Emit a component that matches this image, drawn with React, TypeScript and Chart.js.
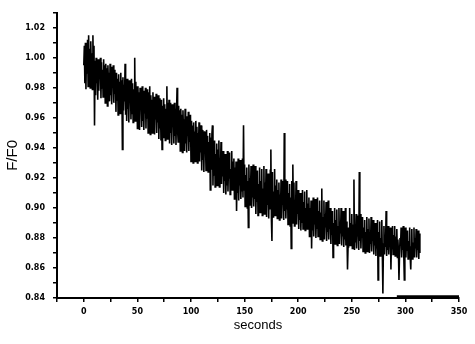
import React, { useEffect, useRef } from "react";
import { Chart, registerables } from "chart.js";

Chart.register(...registerables);

// Sampling interval of the trace (seconds per point)
const TIME_STEP = 0.5;

// F/F0 trace, two values per second from t = 0 s (one row = 10 s)
const FF0_VALUES: number[] = [
  0.995, 1.008, 0.983, 1.010, 0.979, 1.004, 0.990, 1.012, 0.981, 1.015, 0.985, 1.006, 0.980, 1.011, 0.992, 1.003, 0.979, 1.015, 0.987, 1.008,
  0.955, 0.998, 0.975, 1.000, 0.983, 0.996, 0.972, 0.999, 0.978, 0.994, 0.986, 1.000, 0.973, 0.997, 0.980, 0.992, 0.974, 0.999, 0.984, 0.995,
  0.970, 0.996, 0.978, 0.993, 0.968, 0.995, 0.982, 0.990, 0.971, 0.996, 0.975, 0.994, 0.969, 0.989, 0.980, 0.995, 0.970, 0.992, 0.976, 0.988,
  0.964, 0.990, 0.972, 0.986, 0.962, 0.989, 0.976, 0.984, 0.963, 0.990, 0.968, 0.985, 0.939, 0.987, 0.965, 0.982, 0.971, 0.996, 0.962, 0.984,
  0.958, 0.986, 0.966, 0.982, 0.957, 0.985, 0.970, 0.980, 0.959, 0.986, 0.963, 0.983, 0.957, 0.979, 0.968, 1.000, 0.958, 0.984, 0.964, 0.981,
  0.953, 0.981, 0.961, 0.977, 0.952, 0.980, 0.966, 0.975, 0.954, 0.981, 0.958, 0.978, 0.952, 0.974, 0.963, 0.980, 0.953, 0.976, 0.960, 0.979,
  0.950, 0.977, 0.956, 0.981, 0.949, 0.975, 0.962, 0.972, 0.950, 0.977, 0.955, 0.974, 0.949, 0.970, 0.959, 0.976, 0.950, 0.973, 0.957, 0.975,
  0.946, 0.973, 0.953, 0.970, 0.945, 0.972, 0.939, 0.968, 0.947, 0.973, 0.952, 0.969, 0.945, 0.966, 0.955, 0.981, 0.946, 0.970, 0.951, 0.972,
  0.943, 0.970, 0.950, 0.967, 0.942, 0.969, 0.955, 0.964, 0.943, 0.970, 0.948, 0.966, 0.942, 0.963, 0.980, 0.952, 0.944, 0.968, 0.949, 0.965,
  0.938, 0.966, 0.945, 0.962, 0.937, 0.965, 0.950, 0.959, 0.938, 0.966, 0.943, 0.961, 0.937, 0.958, 0.948, 0.964, 0.938, 0.960, 0.944, 0.962,
  0.931, 0.958, 0.938, 0.955, 0.930, 0.957, 0.944, 0.951, 0.931, 0.958, 0.936, 0.954, 0.930, 0.950, 0.941, 0.957, 0.931, 0.953, 0.937, 0.955,
  0.925, 0.952, 0.932, 0.949, 0.924, 0.951, 0.938, 0.945, 0.925, 0.952, 0.930, 0.948, 0.924, 0.944, 0.935, 0.950, 0.912, 0.947, 0.926, 0.949,
  0.955, 0.915, 0.940, 0.922, 0.945, 0.914, 0.936, 0.928, 0.943, 0.915, 0.939, 0.920, 0.945, 0.914, 0.933, 0.925, 0.944, 0.916, 0.937, 0.921,
  0.938, 0.910, 0.932, 0.918, 0.936, 0.909, 0.929, 0.915, 0.938, 0.911, 0.930, 0.920, 0.937, 0.909, 0.926, 0.916, 0.938, 0.912, 0.931, 0.917,
  0.933, 0.906, 0.927, 0.912, 0.931, 0.898, 0.924, 0.910, 0.933, 0.905, 0.926, 0.915, 0.932, 0.906, 0.921, 0.911, 0.933, 0.907, 0.955, 0.912,
  0.929, 0.901, 0.922, 0.908, 0.927, 0.900, 0.918, 0.887, 0.929, 0.902, 0.920, 0.910, 0.928, 0.900, 0.916, 0.907, 0.929, 0.901, 0.921, 0.906,
  0.928, 0.896, 0.919, 0.904, 0.925, 0.895, 0.916, 0.900, 0.927, 0.897, 0.918, 0.906, 0.926, 0.895, 0.913, 0.902, 0.928, 0.896, 0.917, 0.903,
  0.926, 0.894, 0.917, 0.902, 0.923, 0.893, 0.914, 0.899, 0.925, 0.939, 0.893, 0.878, 0.924, 0.894, 0.911, 0.900, 0.926, 0.895, 0.915, 0.901,
  0.919, 0.893, 0.912, 0.899, 0.917, 0.892, 0.909, 0.897, 0.919, 0.893, 0.911, 0.902, 0.918, 0.892, 0.950, 0.898, 0.919, 0.893, 0.910, 0.899,
  0.918, 0.889, 0.910, 0.896, 0.916, 0.888, 0.907, 0.873, 0.918, 0.890, 0.929, 0.897, 0.917, 0.888, 0.905, 0.895, 0.918, 0.889, 0.909, 0.896,
  0.912, 0.886, 0.905, 0.892, 0.910, 0.885, 0.902, 0.890, 0.912, 0.886, 0.904, 0.894, 0.911, 0.885, 0.900, 0.891, 0.912, 0.886, 0.903, 0.893,
  0.907, 0.881, 0.900, 0.887, 0.905, 0.873, 0.897, 0.885, 0.907, 0.881, 0.899, 0.889, 0.906, 0.880, 0.895, 0.886, 0.907, 0.881, 0.898, 0.888,
  0.905, 0.879, 0.897, 0.885, 0.913, 0.878, 0.894, 0.883, 0.905, 0.879, 0.896, 0.887, 0.904, 0.878, 0.892, 0.884, 0.905, 0.879, 0.895, 0.886,
  0.900, 0.876, 0.893, 0.882, 0.898, 0.867, 0.890, 0.880, 0.900, 0.876, 0.892, 0.884, 0.899, 0.875, 0.888, 0.881, 0.900, 0.876, 0.891, 0.883,
  0.900, 0.875, 0.892, 0.881, 0.898, 0.874, 0.889, 0.879, 0.900, 0.875, 0.891, 0.883, 0.859, 0.874, 0.887, 0.880, 0.900, 0.875, 0.890, 0.882,
  0.896, 0.873, 0.889, 0.879, 0.919, 0.872, 0.886, 0.877, 0.896, 0.873, 0.888, 0.881, 0.895, 0.872, 0.924, 0.878, 0.896, 0.873, 0.887, 0.880,
  0.894, 0.871, 0.887, 0.877, 0.892, 0.870, 0.884, 0.875, 0.894, 0.871, 0.886, 0.879, 0.893, 0.870, 0.882, 0.876, 0.894, 0.871, 0.885, 0.878,
  0.892, 0.869, 0.885, 0.875, 0.890, 0.868, 0.882, 0.873, 0.892, 0.852, 0.884, 0.877, 0.891, 0.868, 0.880, 0.874, 0.892, 0.869, 0.843, 0.876,
  0.888, 0.869, 0.882, 0.874, 0.898, 0.868, 0.880, 0.872, 0.888, 0.869, 0.881, 0.876, 0.887, 0.859, 0.879, 0.873, 0.888, 0.869, 0.882, 0.875,
  0.888, 0.868, 0.881, 0.873, 0.886, 0.867, 0.879, 0.871, 0.852, 0.868, 0.880, 0.875, 0.887, 0.867, 0.878, 0.872, 0.888, 0.868, 0.852, 0.874,
  0.887, 0.867, 0.880, 0.872, 0.885, 0.866, 0.878, 0.870, 0.887, 0.867, 0.859, 0.874, 0.886, 0.866, 0.877, 0.871, 0.887, 0.867, 0.880, 0.873,
  0.886, 0.867, 0.879, 0.872, 0.885, 0.866, 0.883, 0.870,
];

// Short flat segment lying on the bottom of the plot
const TAIL_SECONDS: number[] = [292, 350];
const TAIL_VALUES: number[] = [0.8412, 0.8412];

// Axis settings
const X_MIN = -25;
const X_MAX = 350;
const X_STEP = 25;
const Y_MIN = 0.84;
const Y_MAX = 1.03;
const Y_STEP = 0.01;
const X_TITLE = "seconds";
const Y_TITLE = "F/F0";

export default function App() {
  const canvasRef = useRef<HTMLCanvasElement | null>(null);

  useEffect(() => {
    const canvas = canvasRef.current;
    if (!canvas) return;
    const trace = FF0_VALUES.map((v, i) => ({ x: i * TIME_STEP, y: v }));
    const tail = TAIL_SECONDS.map((s, i) => ({ x: s, y: TAIL_VALUES[i] }));
    const tickFont = { family: "'DejaVu Sans', sans-serif", size: 8, weight: "bold" as const };

    const chart = new Chart(canvas, {
      type: "line",
      data: {
        datasets: [
          {
            data: trace,
            borderColor: "#000",
            borderWidth: 1.6,
            pointRadius: 0,
            tension: 0,
          },
          {
            data: tail,
            borderColor: "#000",
            borderWidth: 2,
            pointRadius: 0,
            tension: 0,
          },
        ],
      },
      options: {
        animation: false,
        responsive: false,
        devicePixelRatio: 1,
        parsing: false,
        normalized: true,
        layout: { padding: { top: 7, right: 16, left: 0, bottom: 0 } },
        plugins: {
          legend: { display: false },
          tooltip: { enabled: false },
        },
        scales: {
          x: {
            type: "linear",
            min: X_MIN,
            max: X_MAX,
            afterFit: (scale: any) => {
              scale.height = 46;
            },
            ticks: {
              stepSize: X_STEP,
              autoSkip: false,
              maxRotation: 0,
              padding: 5,
              color: "#000",
              font: tickFont,
              callback: (value: any) => {
                const v = Number(value);
                return v >= 0 && Math.round(v) % 50 === 0 ? String(Math.round(v)) : "";
              },
            },
            grid: {
              display: true,
              drawOnChartArea: false,
              drawTicks: true,
              tickLength: 4,
              color: "#000",
              lineWidth: 1.5,
            },
            border: { display: true, color: "#000", width: 2 },
            title: {
              display: true,
              text: X_TITLE,
              color: "#000",
              font: { family: "'Liberation Sans', Arial, sans-serif", size: 13 },
              padding: { top: 0, bottom: 11 },
            },
          },
          y: {
            type: "linear",
            min: Y_MIN,
            max: Y_MAX,
            afterFit: (scale: any) => {
              scale.width = 57;
            },
            ticks: {
              stepSize: Y_STEP,
              autoSkip: false,
              padding: 8,
              color: "#000",
              font: tickFont,
              callback: (value: any) => {
                const h = Math.round(Number(value) * 100);
                return h % 2 === 0 ? (h / 100).toFixed(2) : "";
              },
            },
            grid: {
              display: true,
              drawOnChartArea: false,
              drawTicks: true,
              tickLength: 4,
              color: "#000",
              lineWidth: 1.5,
            },
            border: { display: true, color: "#000", width: 2 },
            title: {
              display: true,
              text: Y_TITLE,
              color: "#000",
              font: { family: "'Liberation Sans', Arial, sans-serif", size: 15 },
              padding: { top: 4, bottom: 0 },
            },
          },
        },
      },
    } as any);

    return () => {
      chart.destroy();
    };
  }, []);

  return (
    <div style={{ position: "absolute", left: 0, top: 0, width: 475, height: 344, background: "#fff" }}>
      <canvas ref={canvasRef} width={475} height={344} style={{ display: "block" }} />
    </div>
  );
}
